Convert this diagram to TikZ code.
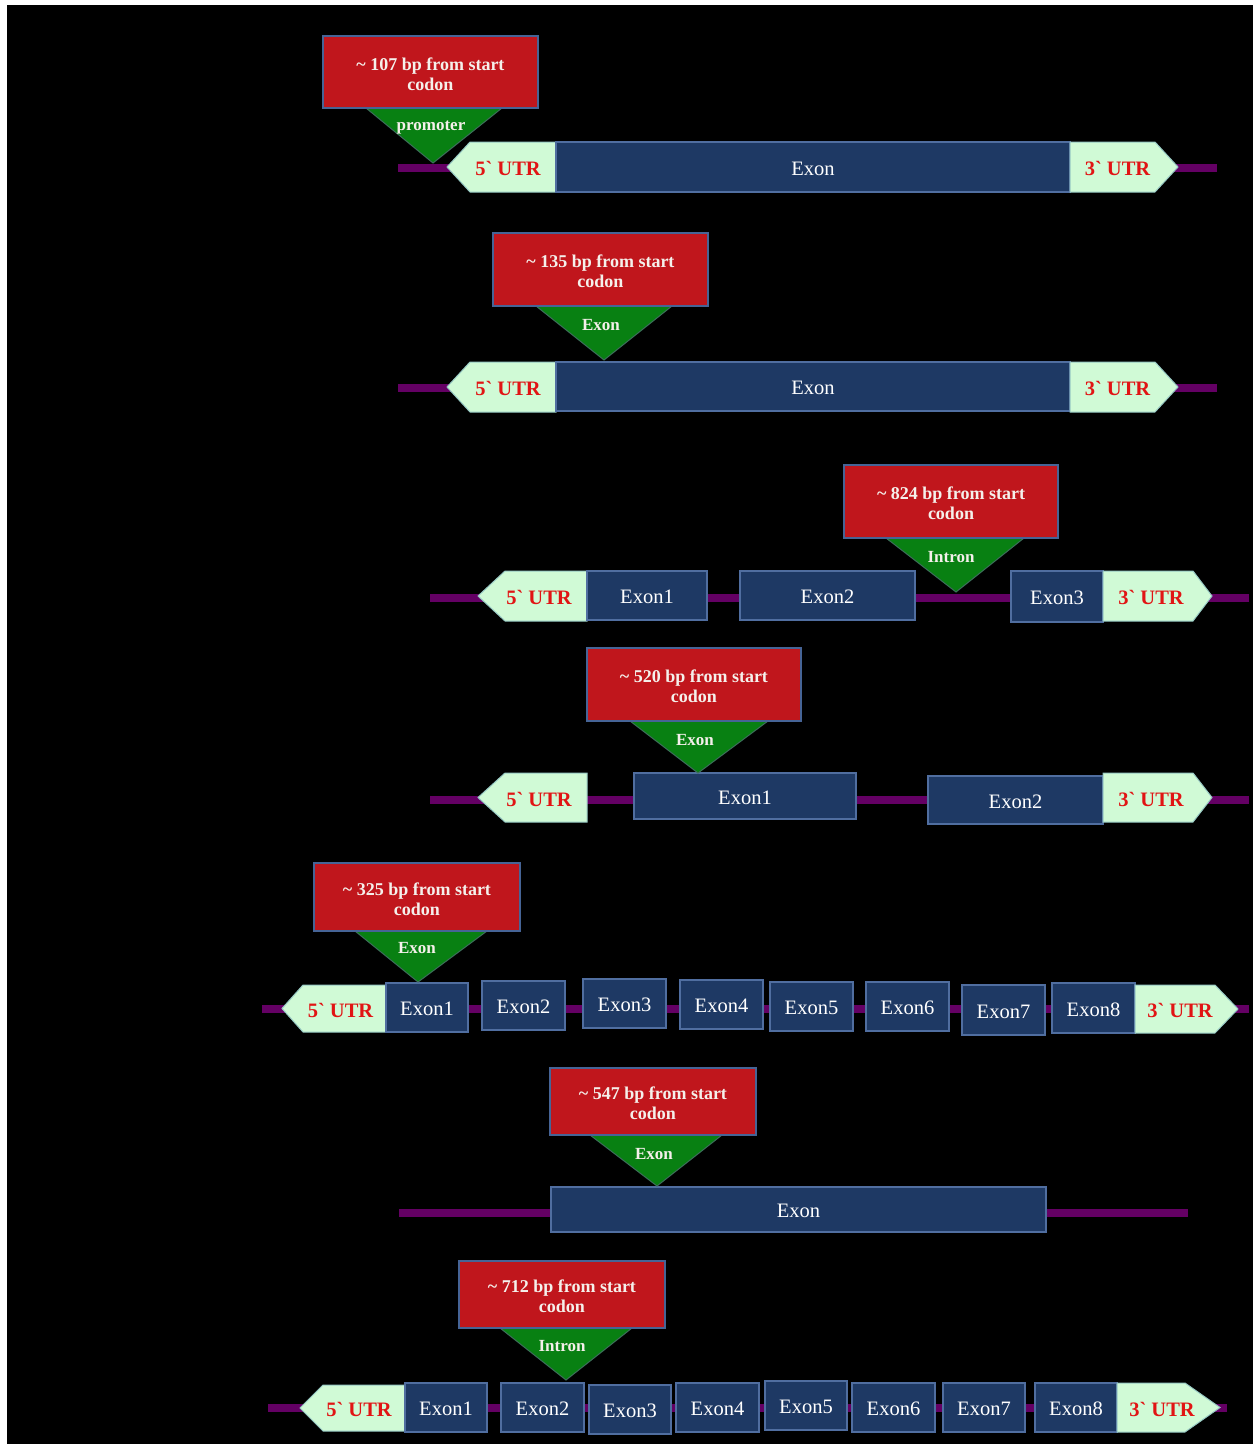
\documentclass[tikz,border=0pt]{standalone}
\usepackage{fontspec}
\setmainfont{Liberation Serif}
\definecolor{boxred}{RGB}{192,22,28}
\definecolor{bordblue}{RGB}{70,100,150}
\definecolor{trigreen}{RGB}{8,128,18}
\definecolor{trigborder}{RGB}{60,110,90}
\definecolor{exonblue}{RGB}{30,57,100}
\definecolor{exonborder}{RGB}{80,110,160}
\definecolor{utrfill}{RGB}{208,250,214}
\definecolor{utrborder}{RGB}{150,200,195}
\definecolor{utrred}{RGB}{225,20,20}
\definecolor{dnapurple}{RGB}{100,0,100}
\definecolor{labelwhite}{RGB}{245,240,235}
\tikzset{
  redbox/.style={fill=boxred, draw=bordblue, line width=1.3pt, text=labelwhite, inner sep=0pt,
    font=\bfseries\fontsize{18}{20}\selectfont, align=center},
  tri/.style={fill=trigreen, draw=trigborder, line width=1pt},
  trilabel/.style={text=labelwhite, font=\bfseries\fontsize{17}{20}\selectfont, inner sep=0pt, yshift=-3pt},
  exonbox/.style={fill=exonblue, draw=exonborder, line width=1.2pt, text=white, inner sep=0pt,
    font=\fontsize{20.5}{24}\selectfont},
  exontext/.style={text=white, font=\fontsize{20.5}{24}\selectfont, inner sep=0pt},
  utr/.style={fill=utrfill, draw=utrborder, line width=1pt},
  utrtext/.style={text=utrred, font=\bfseries\fontsize{20.5}{24}\selectfont, inner sep=0pt, yshift=-1.5pt},
  dna/.style={draw=dnapurple, line width=8pt},
}
% exon box by corners: name, left, top, right, bottom, text
\newcommand\exb[6]{\node[exonbox, minimum width={#4-#2}, minimum height={#5-#3}] (#1) at ({(#2+#4)/2},{(#3+#5)/2}) {};
  \node[exontext] (#1t) at ([yshift=-1.5pt]#1.center) {#6};}
% 5' UTR: name, tip x, rect left, rect right, top, bottom
\newcommand\utrL[6]{\filldraw[utr] (#2,{(#5+#6)/2}) -- (#3,#5) -- (#4,#5) -- (#4,#6) -- (#3,#6) -- cycle;
  \node[utrtext] (#1) at ({(#2+#4)/2+6.5},{(#5+#6)/2}) {5\textasciigrave{} UTR};}
% 3' UTR: name, rect left, rect right, tip x, top, bottom
\newcommand\utrR[6]{\filldraw[utr] (#2,#5) -- (#3,#5) -- (#4,{(#5+#6)/2}) -- (#3,#6) -- (#2,#6) -- cycle;
  \node[utrtext] (#1) at ({(#2+#4)/2-6.5},{(#5+#6)/2}) {3\textasciigrave{} UTR};}
% red callout box: name, left, top, right, bottom, number
\newcommand\redcall[6]{\node[redbox, minimum width={#4-#2}, minimum height={#5-#3}] (#1) at ({(#2+#4)/2},{(#3+#5)/2}) {};
  \node[redbox, draw=none, fill=none] (#1t) at ([yshift=-2pt]#1.center) {\textasciitilde{} #6 bp from start\\codon};}
\begin{document}
\begin{tikzpicture}[x=1pt,y=-1pt]
\useasboundingbox (0,0) rectangle (1253,1444);
\fill[black] (7,5) rectangle (1253,1444);

% ---------- Row 1 ----------
\coordinate (a1) at (398,168); \coordinate (b1) at (1217,168);
\draw[dna] (a1) -- (b1);
\utrL{f1}{447}{470}{556}{142}{192}
\exb{e1}{556}{142}{1070}{192}{Exon}
\utrR{t1}{1070}{1155}{1178}{142}{192}
\filldraw[tri] (366,108) -- (502,108) -- (433,163) -- cycle;
\redcall{r1}{323}{36}{538}{108}{107}
\node[trilabel] (l1) at (431,125) {promoter};

% ---------- Row 2 ----------
\coordinate (a2) at (398,388); \coordinate (b2) at (1217,388);
\draw[dna] (a2) -- (b2);
\utrL{f2}{447}{470}{556}{362}{412}
\exb{e2}{556}{362}{1070}{411}{Exon}
\utrR{t2}{1070}{1155}{1178}{362}{412}
\filldraw[tri] (536,306) -- (672,306) -- (604,360) -- cycle;
\redcall{r2}{493}{233}{708}{306}{135}
\node[trilabel] (l2) at (601,322) {Exon};

% ---------- Row 3 ----------
\coordinate (a3) at (430,598); \coordinate (b3) at (1249,598);
\draw[dna] (a3) -- (b3);
\utrL{f3}{478}{505}{587}{571}{621}
\exb{e3a}{587}{571}{707}{620}{Exon1}
\exb{e3b}{740}{571}{915}{620}{Exon2}
\exb{e3c}{1011}{571}{1103}{622}{Exon3}
\utrR{t3}{1103}{1193}{1212}{571}{621}
\filldraw[tri] (886,538) -- (1024,538) -- (956,592) -- cycle;
\redcall{r3}{844}{465}{1058}{538}{824}
\node[trilabel] (l3) at (951,554) {Intron};

% ---------- Row 4 ----------
\coordinate (a4) at (430,800); \coordinate (b4) at (1249,800);
\draw[dna] (a4) -- (b4);
\utrL{f4}{478}{505}{587}{773}{822}
\exb{e4a}{634}{773}{856}{819}{Exon1}
\exb{e4b}{928}{776}{1103}{824}{Exon2}
\utrR{t4}{1103}{1193}{1212}{773}{822}
\filldraw[tri] (630,721) -- (768,721) -- (698,773) -- cycle;
\redcall{r4}{587}{648}{801}{721}{520}
\node[trilabel] (l4) at (695,737) {Exon};

% ---------- Row 5 ----------
\coordinate (a5) at (262,1009); \coordinate (b5) at (1249,1009);
\draw[dna] (a5) -- (b5);
\utrL{f5}{282}{303}{386}{985}{1032}
\exb{e5a}{386}{983}{468}{1032}{Exon1}
\exb{e5b}{482}{981}{565}{1030}{Exon2}
\exb{e5c}{583}{979}{666}{1028}{Exon3}
\exb{e5d}{680}{980}{763}{1029}{Exon4}
\exb{e5e}{770}{982}{853}{1031}{Exon5}
\exb{e5f}{866}{982}{949}{1031}{Exon6}
\exb{e5g}{962}{985}{1045}{1035}{Exon7}
\exb{e5h}{1052}{983}{1135}{1033}{Exon8}
\utrR{t5}{1135}{1215}{1238}{985}{1033}
\filldraw[tri] (355,931) -- (487,931) -- (418,982) -- cycle;
\redcall{r5}{314}{863}{520}{931}{325}
\node[trilabel] (l5) at (417,945) {Exon};

% ---------- Row 6 ----------
\coordinate (a6) at (399,1213); \coordinate (b6) at (1188,1213);
\draw[dna] (a6) -- (b6);
\exb{e6}{551}{1187}{1046}{1232}{Exon}
\filldraw[tri] (590,1135) -- (722,1135) -- (657,1186) -- cycle;
\redcall{r6}{550}{1068}{756}{1135}{547}
\node[trilabel] (l6) at (654,1151) {Exon};

% ---------- Row 7 ----------
\coordinate (a7) at (268,1408); \coordinate (b7) at (1227,1408);
\draw[dna] (a7) -- (b7);
\utrL{f7}{300}{323}{405}{1385}{1431}
\exb{e7a}{405}{1383}{487}{1432}{Exon1}
\exb{e7b}{501}{1383}{584}{1432}{Exon2}
\exb{e7c}{589}{1385}{671}{1434}{Exon3}
\exb{e7d}{676}{1383}{759}{1432}{Exon4}
\exb{e7e}{765}{1381}{847}{1430}{Exon5}
\exb{e7f}{852}{1383}{935}{1432}{Exon6}
\exb{e7g}{943}{1383}{1025}{1432}{Exon7}
\exb{e7h}{1035}{1383}{1117}{1432}{Exon8}
\utrR{t7}{1117}{1185}{1220}{1383}{1432}
\filldraw[tri] (500,1328) -- (632,1328) -- (566,1380) -- cycle;
\redcall{r7}{459}{1261}{665}{1328}{712}
\node[trilabel] (l7) at (562,1343) {Intron};
\end{tikzpicture}
\end{document}
